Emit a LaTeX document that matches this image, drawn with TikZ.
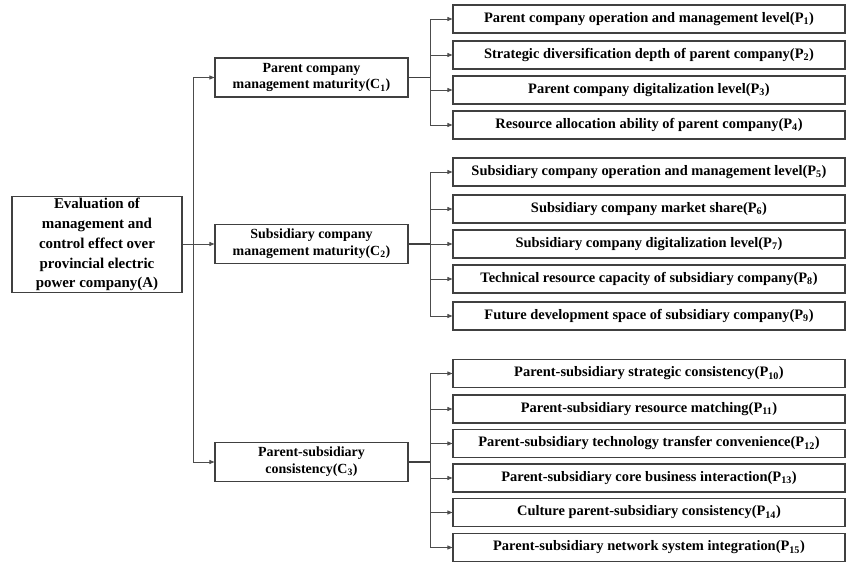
\documentclass[tikz,border=0pt]{standalone}
\usepackage{fontspec}
\setmainfont{Liberation Serif}
\usetikzlibrary{arrows.meta}
\begin{document}
\begin{tikzpicture}[x=1bp,y=-1bp,
  box/.style={draw=black!75,line width=1.1bp,font=\bfseries\fontsize{14.5}{17}\selectfont,inner sep=1bp,align=center},
  pbox/.style={box,minimum width=392bp,minimum height=28bp},
  cbox/.style={box,minimum width=193bp,minimum height=39bp,font=\bfseries\fontsize{14}{17}\selectfont},
  rbox/.style={box,minimum width=170bp,minimum height=95bp,font=\bfseries\fontsize{15}{20}\selectfont},
  arr/.style={draw=black!70,line width=0.8bp,-{Triangle[length=5bp,width=4bp]}},
  bus/.style={draw=black!75,line width=1.6bp}]
\useasboundingbox (0,0) rectangle (846,562);
\node[rbox] (root) at (97,244.5) {Evaluation of\\management and\\control effect over\\provincial electric\\power company(A)};
\node[cbox] (c1) at (311.5,77.5) {Parent company\\management maturity(C\textsubscript{1})};
\node[cbox] (c2) at (311.5,244) {Subsidiary company\\management maturity(C\textsubscript{2})};
\node[cbox] (c3) at (311.5,462) {Parent-subsidiary\\consistency(C\textsubscript{3})};
\node[pbox] (p1) at (649,19) {Parent company operation and management level(P\textsubscript{1})};
\node[pbox] (p2) at (649,55) {Strategic diversification depth of parent company(P\textsubscript{2})};
\node[pbox] (p3) at (649,90) {Parent company digitalization level(P\textsubscript{3})};
\node[pbox] (p4) at (649,125) {Resource allocation ability of parent company(P\textsubscript{4})};
\node[pbox] (p5) at (649,172) {Subsidiary company operation and management level(P\textsubscript{5})};
\node[pbox] (p6) at (649,209) {Subsidiary company market share(P\textsubscript{6})};
\node[pbox] (p7) at (649,244) {Subsidiary company digitalization level(P\textsubscript{7})};
\node[pbox] (p8) at (649,279) {Technical resource capacity of subsidiary company(P\textsubscript{8})};
\node[pbox] (p9) at (649,316) {Future development space of subsidiary company(P\textsubscript{9})};
\node[pbox] (p10) at (649,373.5) {Parent-subsidiary strategic consistency(P\textsubscript{10})};
\node[pbox] (p11) at (649,409) {Parent-subsidiary resource matching(P\textsubscript{11})};
\node[pbox] (p12) at (649,443.5) {Parent-subsidiary technology transfer convenience(P\textsubscript{12})};
\node[pbox] (p13) at (649,478) {Parent-subsidiary core business interaction(P\textsubscript{13})};
\node[pbox] (p14) at (649,512.5) {Culture parent-subsidiary consistency(P\textsubscript{14})};
\node[pbox] (p15) at (649,547.5) {Parent-subsidiary network system integration(P\textsubscript{15})};
% root to C
\coordinate (t) at ([xshift=11bp]root.east);
\draw[draw=black!70,line width=0.8bp] (root.east) -- (t);
\foreach \c in {c1,c2,c3}{\draw[arr] (t) |- (\c.west);}
% C to P
\coordinate (b1) at ([xshift=22bp]c1.east);
\coordinate (b2) at ([xshift=22bp]c2.east);
\coordinate (b3) at ([xshift=22bp]c3.east);
\draw[bus] (c1.east) -- (b1);
\draw[bus] (c2.east) -- (b2);
\draw[bus] (c3.east) -- (b3);
\foreach \p in {p1,p2,p3,p4}{\draw[arr] (b1) |- (\p.west);}
\foreach \p in {p5,p6,p7,p8,p9}{\draw[arr] (b2) |- (\p.west);}
\foreach \p in {p10,p11,p12,p13,p14,p15}{\draw[arr] (b3) |- (\p.west);}
\end{tikzpicture}
\end{document}
